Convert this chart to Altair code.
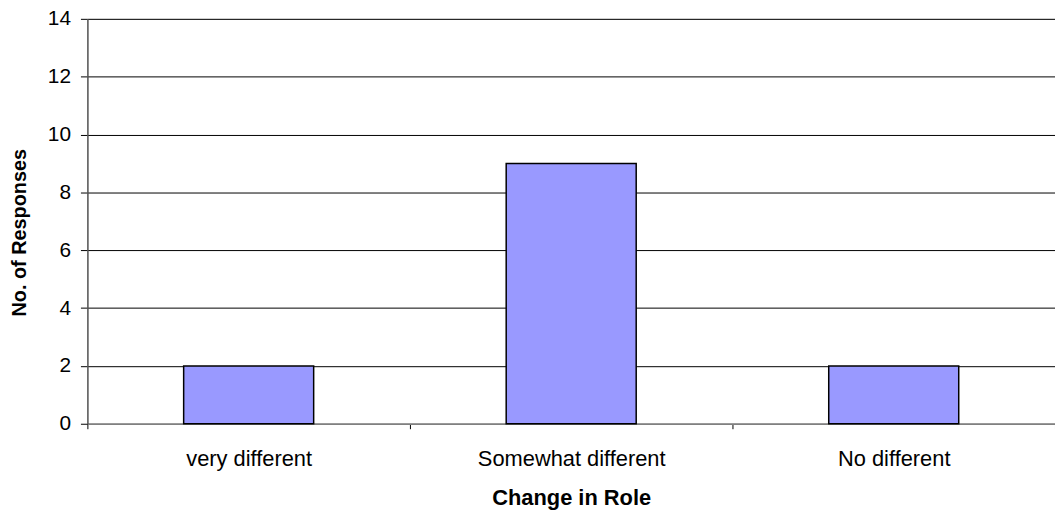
import altair as alt
import pandas as pd

categories = ["very different", "Somewhat different", "No different"]
responses = [2, 9, 2]
y_ticks = [0, 2, 4, 6, 8, 10, 12, 14]

df = pd.DataFrame({"cat": categories, "val": responses})

FONT = "Liberation Sans"

bars = alt.Chart(df).mark_bar(
    size=131, color="#9999FF", stroke="#000000", strokeWidth=1.5
).encode(
    x=alt.X(
        "cat:N",
        sort=categories,
        scale=alt.Scale(paddingInner=0, paddingOuter=0),
        axis=alt.Axis(
            title="Change in Role",
            labelAngle=0,
            labelLimit=0,
            tickBand="extent",
            tickSize=5,
            tickColor="#000000",
            domainColor="#808080",
            domainWidth=1.5,
            labelFont=FONT,
            labelFontSize=22,
            labelColor="#000000",
            labelPadding=20,
            titleFont=FONT,
            titleFontSize=22,
            titleFontWeight="bold",
            titleColor="#000000",
            titleY=81,
            titleBaseline="alphabetic",
            grid=False,
        ),
    ),
    y=alt.Y(
        "val:Q",
        scale=alt.Scale(domain=[0, 14], nice=False),
        axis=alt.Axis(
            title="No. of Responses",
            values=y_ticks,
            tickSize=7,
            tickColor="#000000",
            domainColor="#555555",
            domainWidth=1.5,
            gridColor="#000000",
            gridWidth=1,
            gridOpacity=1,
            labelFont=FONT,
            labelFontSize=21,
            labelColor="#000000",
            labelPadding=10,
            titleFont=FONT,
            titleFontSize=20,
            titleFontWeight="bold",
            titleColor="#000000",
            titleX=-68,
            titleY=215,
            titleAngle=270,
            titleAlign="center",
            titleBaseline="middle",
        ),
    ),
)

chart = bars.properties(
    width=975,
    height=408,
    autosize=alt.AutoSizeParams(type="none"),
    padding={"left": 80, "top": 9, "right": 0, "bottom": 88},
).configure_view(stroke=None).configure(background="white")

chart.save("out.html", embed_options={"renderer": "svg", "actions": False})
